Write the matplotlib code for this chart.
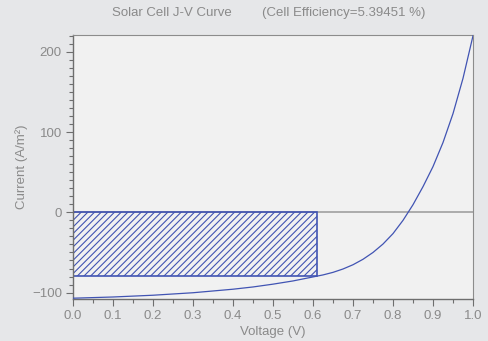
import matplotlib

matplotlib.use("Agg")
from matplotlib import pyplot as plt
from matplotlib.patches import Rectangle
from matplotlib.ticker import MultipleLocator

# J-V curve
voltage = [0.0, 0.1, 0.2, 0.3, 0.4, 0.45, 0.5, 0.55, 0.6, 0.625, 0.65, 0.675,
           0.7, 0.725, 0.75, 0.775, 0.8, 0.825, 0.85, 0.875, 0.9, 0.925,
           0.95, 0.975, 1.0]
current = [-107, -105.5, -103.3, -100.2, -95.8, -93, -89.5, -85.5, -80.5,
           -78, -74.8, -70.6, -65.3, -58.5, -50, -39.5, -26.5, -10, 9.5, 32,
           57, 87, 123, 167, 220]

# max power rectangle
v_mp = 0.61
j_mp = -79.6

title_left = "Solar Cell J-V Curve"
title_right = "(Cell Efficiency=5.39451 %)"

blue = "#4154b3"
grey_text = "#8a8a8a"

plt.rcParams["font.family"] = ["Liberation Sans", "DejaVu Sans"]
plt.rcParams["hatch.linewidth"] = 0.8
plt.rcParams["hatch.color"] = blue

fig = plt.figure(figsize=(4.88, 3.41), dpi=100, facecolor="#e6e7e9")
ax = fig.add_axes([73 / 488, 1 - 299 / 341, 400 / 488, 264 / 341])
ax.set_facecolor("#f1f1f1")

ax.axhline(0, color="#a0a0a0", linewidth=1.2, zorder=1)
ax.add_patch(Rectangle((0, j_mp), v_mp, -j_mp, facecolor="none", edgecolor=blue,
                       hatch="/////", linewidth=1.2, zorder=2))
ax.plot(voltage, current, color=blue, linewidth=0.9, zorder=3)

ax.set_xlim(0, 1.0)
ax.set_ylim(-108, 221)
ax.xaxis.set_major_locator(MultipleLocator(0.1))
ax.xaxis.set_minor_locator(MultipleLocator(0.05))
ax.yaxis.set_major_locator(MultipleLocator(100))
ax.yaxis.set_minor_locator(MultipleLocator(10))
ax.xaxis.set_major_formatter(lambda v, pos: f"{v:.1f}")

for side in ["left", "bottom"]:
    ax.spines[side].set_color("#6e6e6e")
    ax.spines[side].set_linewidth(1.0)
for side in ["top", "right"]:
    ax.spines[side].set_color("#8c8c8c")
    ax.spines[side].set_linewidth(0.8)

ax.tick_params(which="major", length=5, width=0.8, color="#6e6e6e",
               labelcolor=grey_text, labelsize=9.5, pad=3)
ax.tick_params(which="minor", length=3, width=0.8, color="#6e6e6e")

ax.set_xlabel("Voltage (V)", color=grey_text, fontsize=9.5, labelpad=3)
ax.set_ylabel("Current (A/m²)", color=grey_text, fontsize=9.5, labelpad=3)

fig.text(172 / 488, 1 - 13 / 341, title_left, color=grey_text, fontsize=9.5,
         ha="center", va="center")
fig.text(344 / 488, 1 - 13 / 341, title_right, color=grey_text, fontsize=9.5,
         ha="center", va="center")

fig.savefig("out.png", dpi=100, facecolor=fig.get_facecolor())
